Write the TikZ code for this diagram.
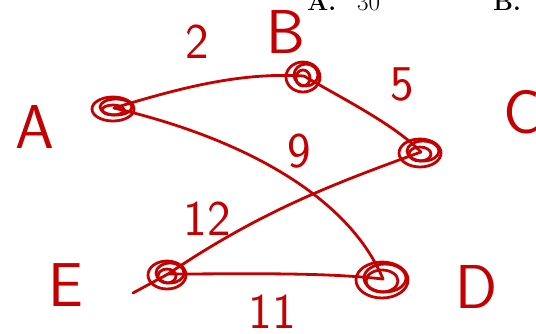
\documentclass[tikz,border=0pt]{standalone}
\usepackage{tikz}
\definecolor{ink}{RGB}{196,0,0}
\tikzset{
  pen/.style={ink, line width=2.8pt, line cap=round, line join=round},
  hand/.style={ink, inner sep=0pt, font=\sffamily\fontsize{62}{62}\selectfont},
  digit/.style={hand, font=\sffamily\fontsize{50}{50}\selectfont},
  vertex/.style={circle, inner sep=0pt, minimum size=3pt},
  answer/.style={anchor=base west, inner sep=0pt, font=\fontsize{25}{30}\selectfont},
}

\begin{document}
\begin{tikzpicture}[x=1pt, y=-1pt]
  \useasboundingbox (0,0) rectangle (536,333);

  % cac dinh
  \node[vertex] (A) at (114,108) {};
  \node[vertex] (B) at (304,76) {};
  \node[vertex] (C) at (421,152) {};
  \node[vertex] (E) at (168,274) {};
  \node[vertex] (D) at (383,279) {};
  \coordinate (Etail) at (133,293);

  % cac canh
  \draw[pen] (A.center) .. controls (180,88) and (240,72) .. (B.center);
  \draw[pen] (A.center) .. controls (250,140) and (350,200) .. (D.center);
  \draw[pen] (B.center) .. controls (345,100) and (395,125) .. (C.center);
  \draw[pen] (C.center) .. controls (330,185) and (260,212) .. (E.center) -- (Etail);
  \draw[pen] (E.center) .. controls (240,274) and (320,272) .. (D.center);

  % vong tron nguech ngoac quanh dinh
  \foreach \v/\rx/\ry in {A/21/12, B/17/15, C/21/14, E/19/14, D/26/18}{
    \draw[pen] (\v) ++(-1,1) ellipse[x radius=\rx, y radius=\ry];
    \draw[pen] (\v) ++(2,-1) ellipse[x radius=\rx-5, y radius=\ry-4];
    \draw[pen] (\v) ++(-1,2) ellipse[x radius=\rx-10, y radius=\ry-7];
  }

  % chu viet tay
  \node[hand] (lblA) at (35,127) {A};
  \node[hand] (lblB) at (286,32) {B};
  \node[hand] (lblC) at (522,112) {C};
  \node[hand] (lblD) at (477,287) {D};
  \node[hand] (lblE) at (66,285) {E};
  \node[digit] (w2) at (197,42) {2};
  \node[digit] (w5) at (402,84) {5};
  \node[digit] (w9) at (299,151) {9};
  \node[digit] (w12) at (207,219) {12};
  \node[digit] (w11) at (272,312) {11};

  % dap an
  \node[answer] (optA) at (307,10) {\textbf{A.}};
  \node[answer] (val) at (357,10) {30};
  \node[answer] (optB) at (493,10) {\textbf{B.}};
\end{tikzpicture}
\end{document}
